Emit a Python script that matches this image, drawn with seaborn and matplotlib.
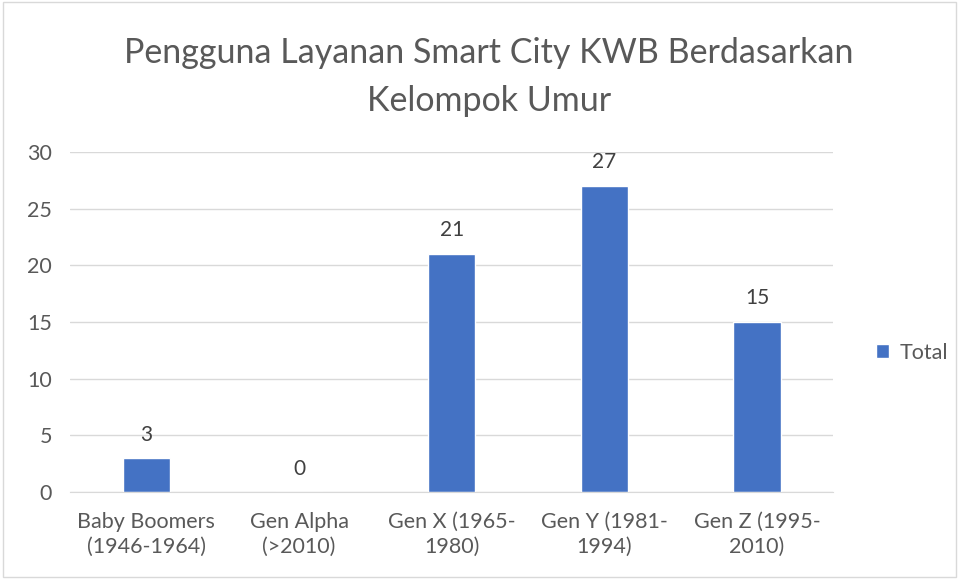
import matplotlib.pyplot as plt
import pandas as pd
import seaborn as sns

# data
categories = ["Baby Boomers\n(1946-1964)", "Gen Alpha\n(>2010)", "Gen X (1965-\n1980)",
              "Gen Y (1981-\n1994)", "Gen Z (1995-\n2010)"]
totals = [3, 0, 21, 27, 15]
y_ticks = [0, 5, 10, 15, 20, 25, 30]

df = pd.DataFrame({"kelompok": categories, "Total": totals})

sns.set_style("white")
plt.rcParams["font.family"] = ["Lato", "DejaVu Sans"]

fig = plt.figure(figsize=(9.59, 5.79), dpi=100)
ax = fig.add_axes([0.073, 0.150, 0.796, 0.5875])

sns.barplot(data=df, x="kelompok", y="Total", color="#4472C4", width=0.31,
            ax=ax, label="Total", saturation=1)

for i, v in enumerate(totals):
    ax.text(i, v + 1.2, str(v), ha="center", va="bottom", fontsize=15, color="#404040")

ax.set_ylim(0, 30)
ax.set_yticks(y_ticks)
ax.set_xlim(-0.5, 4.5)
ax.yaxis.grid(True, color="#d9d9d9", linewidth=1)
ax.set_axisbelow(True)
for s in ["top", "right", "left"]:
    ax.spines[s].set_visible(False)
ax.spines["bottom"].set_color("#d9d9d9")
ax.tick_params(axis="both", length=0, labelsize=15.5, labelcolor="#595959")
ax.tick_params(axis="x", pad=14)
ax.tick_params(axis="y", pad=13)
for lbl in ax.get_xticklabels():
    lbl.set_linespacing(1.3)
ax.set_xlabel("")
ax.set_ylabel("")

fig.suptitle("Pengguna Layanan Smart City KWB Berdasarkan\nKelompok Umur",
             x=0.51, y=0.936, fontsize=24.5, color="#595959", linespacing=1.6)

ax.legend(loc="center left", bbox_to_anchor=(1.03, 0.41), frameon=False,
          fontsize=15.5, labelcolor="#595959", handlelength=0.6, handleheight=0.6,
          handletextpad=0.5)

fig.patches.append(plt.Rectangle((0.003, 0.003), 0.994, 0.994, transform=fig.transFigure,
                                 fill=False, edgecolor="#d9d9d9", linewidth=1))

fig.savefig("out.png", dpi=100)
